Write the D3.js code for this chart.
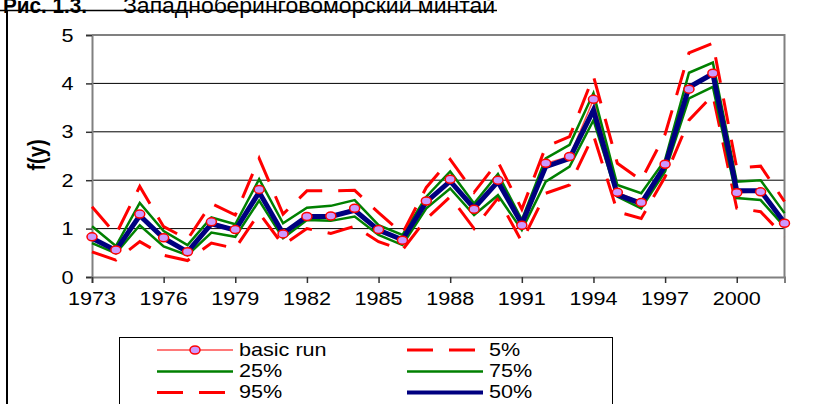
<!DOCTYPE html>
<html>
<head>
<meta charset="utf-8">
<script src="https://cdn.jsdelivr.net/npm/d3@7"></script>
<style>
  html, body { margin: 0; padding: 0; background: #fff; }
  svg { display: block; }
  text { font-family: "Liberation Sans", Arial, sans-serif; fill: #000; }
</style>
</head>
<body>
<svg id="chart" width="835" height="404"></svg>
<script>
// Years of the simulation runs
const years = d3.range(1973, 2003);

// Basic run and percentile bands of f(y)
const basicRun = [0.83, 0.56, 1.30, 0.81, 0.52, 1.14, 0.98, 1.81, 0.89, 1.25,
                  1.26, 1.42, 0.98, 0.76, 1.57, 2.02, 1.40, 2.00, 1.07, 2.35,
                  2.49, 3.67, 1.75, 1.54, 2.33, 3.88, 4.21, 1.74, 1.76, 1.11];
const p5  = [0.52, 0.35, 0.73, 0.45, 0.34, 0.70, 0.59, 1.32, 0.66, 1.00,
             0.90, 1.05, 0.73, 0.56, 1.20, 1.66, 1.00, 1.63, 0.73, 1.73,
             1.90, 2.93, 1.35, 1.21, 2.07, 3.24, 3.76, 1.42, 1.35, 0.83];
const p25 = [0.70, 0.49, 1.07, 0.63, 0.45, 0.92, 0.83, 1.58, 0.80, 1.18,
             1.16, 1.25, 0.87, 0.66, 1.42, 1.83, 1.28, 1.69, 0.97, 1.97,
             2.28, 3.24, 1.66, 1.42, 2.18, 3.69, 3.93, 1.63, 1.59, 1.04];
const p50 = [0.80, 0.55, 1.27, 0.80, 0.52, 1.10, 0.97, 1.75, 0.90, 1.25,
             1.25, 1.38, 0.97, 0.77, 1.55, 1.98, 1.42, 1.97, 1.10, 2.28,
             2.45, 3.45, 1.70, 1.52, 2.30, 3.92, 4.20, 1.78, 1.78, 1.12];
const p75 = [1.05, 0.64, 1.53, 0.95, 0.66, 1.23, 1.09, 2.02, 1.11, 1.43,
             1.47, 1.59, 1.07, 0.87, 1.66, 2.18, 1.52, 2.13, 1.18, 2.45,
             2.73, 3.80, 1.90, 1.73, 2.42, 4.22, 4.43, 1.97, 2.00, 1.32];
const p95 = [1.45, 0.88, 1.87, 1.04, 0.78, 1.52, 1.28, 2.45, 1.30, 1.78,
             1.78, 1.79, 1.33, 0.90, 1.85, 2.43, 1.75, 2.38, 1.40, 2.69,
             2.90, 4.15, 2.35, 2.00, 2.95, 4.63, 4.83, 2.25, 2.29, 1.56];

const yTicks = [0, 1, 2, 3, 4, 5];
const xTicks = d3.range(1973, 2001, 3);

const titleBold = "Рис. 1.3.";
const titleText = "Западноберинговоморский минтай";
const yTitle = "f(y)";

const svg = d3.select("#chart");
const SX = 1.2;           // horizontal stretch of the lettering
const FS = 18;

function label(g, x, y, str, anchor, size, weight) {
  return g.append("text")
    .attr("transform", `translate(${x},${y}) scale(${SX},1)`)
    .attr("text-anchor", anchor || "start")
    .attr("font-size", size || FS)
    .attr("font-weight", weight || "normal")
    .text(str);
}

// Heading and page frame
svg.append("text").attr("x", 3).attr("y", 13)
  .attr("font-size", 22).attr("font-weight", "bold")
  .attr("textLength", 84).attr("lengthAdjust", "spacingAndGlyphs")
  .text(titleBold);
svg.append("text").attr("x", 123).attr("y", 13)
  .attr("font-size", 22)
  .attr("textLength", 372).attr("lengthAdjust", "spacingAndGlyphs")
  .text(titleText);
svg.append("line").attr("x1", 0).attr("x2", 497).attr("y1", 10.5).attr("y2", 10.5)
  .attr("stroke", "#000").attr("stroke-width", 1.5);
svg.append("line").attr("x1", 7).attr("x2", 7).attr("y1", 10).attr("y2", 404)
  .attr("stroke", "#000").attr("stroke-width", 2);

// Plot area
const plotL = 92, plotR = 784.5, plotT = 35, plotB = 277;
const x = d3.scaleLinear().domain([1973, 2002]).range([plotL, plotR]);
const y = d3.scaleLinear().domain([0, 5]).range([plotB, plotT]);

const g = svg.append("g");

// Horizontal gridlines
g.selectAll("line.grid").data(yTicks.filter(v => v > 0 && v < 5)).join("line")
  .attr("class", "grid")
  .attr("x1", plotL).attr("x2", plotR)
  .attr("y1", d => y(d)).attr("y2", d => y(d))
  .attr("stroke", "#000").attr("stroke-width", 1);

// Plot border (top and right)
g.append("path")
  .attr("d", `M${plotL},${y(5)}H${plotR}V${plotB}`)
  .attr("fill", "none").attr("stroke", "#808080").attr("stroke-width", 2);

// Axes
const yAxis = d3.axisLeft(y).tickValues(yTicks).tickSize(6).tickFormat("");
const xAxis = d3.axisBottom(x).tickValues(xTicks).tickSize(6).tickFormat("");
const ya = g.append("g").attr("transform", `translate(${plotL},0)`).call(yAxis);
const xa = g.append("g").attr("transform", `translate(0,${plotB})`).call(xAxis);
[ya, xa].forEach(a => {
  a.select(".domain").attr("stroke", "#808080").attr("stroke-width", 2);
  a.selectAll(".tick line").attr("stroke", "#333").attr("stroke-width", 1.5);
});

yTicks.forEach(v => label(g, 73.5, y(v) + 6.5, String(v), "end"));
xTicks.forEach(v => label(g, x(v), 305, String(v), "middle"));

svg.append("text")
  .attr("transform", "translate(45,155) rotate(-90) scale(1,1.15)")
  .attr("text-anchor", "middle")
  .attr("font-size", 20).attr("font-weight", "bold")
  .text(yTitle);

// Series lines
const line = d3.line().x((d, i) => x(years[i])).y(d => y(d));
const series = [
  { data: basicRun, color: "#ff4d4d", width: 1.5, dash: null },
  { data: p5,  color: "#ff0000", width: 3,   dash: "26,16" },
  { data: p25, color: "#008000", width: 2.5, dash: null },
  { data: p75, color: "#008000", width: 2.5, dash: null },
  { data: p95, color: "#ff0000", width: 3,   dash: "26,16" },
  { data: p50, color: "#000080", width: 5,   dash: null }
];
series.forEach(s => {
  g.append("path").datum(s.data)
    .attr("d", line)
    .attr("fill", "none")
    .attr("stroke", s.color)
    .attr("stroke-width", s.width)
    .attr("stroke-dasharray", s.dash)
    .attr("stroke-linejoin", "miter");
});

// Basic run markers
g.selectAll("ellipse.mk").data(basicRun).join("ellipse")
  .attr("class", "mk")
  .attr("cx", (d, i) => x(years[i])).attr("cy", d => y(d))
  .attr("rx", 5).attr("ry", 4)
  .attr("fill", "#cc99ff").attr("stroke", "#ff0000").attr("stroke-width", 1.5);

// Legend
const lg = svg.append("g");
lg.append("rect").attr("x", 119.5).attr("y", 337.5).attr("width", 493).attr("height", 80)
  .attr("fill", "#fff").attr("stroke", "#000").attr("stroke-width", 1);

const legendItems = [
  { name: "basic run", s: series[0], col: 0, row: 0, marker: true },
  { name: "5%",  s: series[1], col: 1, row: 0 },
  { name: "25%", s: series[2], col: 0, row: 1 },
  { name: "75%", s: series[3], col: 1, row: 1 },
  { name: "95%", s: series[4], col: 0, row: 2 },
  { name: "50%", s: series[5], col: 1, row: 2 }
];
const colX = [157, 407];
const rowY = [350, 371.5, 392.5];
legendItems.forEach(it => {
  const x0 = colX[it.col], yy = rowY[it.row];
  const w = it.s.width === 5 ? 4 : it.s.width;
  lg.append("line").attr("x1", x0).attr("x2", x0 + 76).attr("y1", yy).attr("y2", yy)
    .attr("stroke", it.s.color).attr("stroke-width", w)
    .attr("stroke-dasharray", it.s.dash);
  if (it.marker) {
    lg.append("ellipse").attr("cx", x0 + 38).attr("cy", yy).attr("rx", 5).attr("ry", 4)
      .attr("fill", "#cc99ff").attr("stroke", "#ff0000").attr("stroke-width", 1.5);
  }
  label(lg, x0 + 82, yy + 5.5, it.name, "start");
});
</script>
</body>
</html>
